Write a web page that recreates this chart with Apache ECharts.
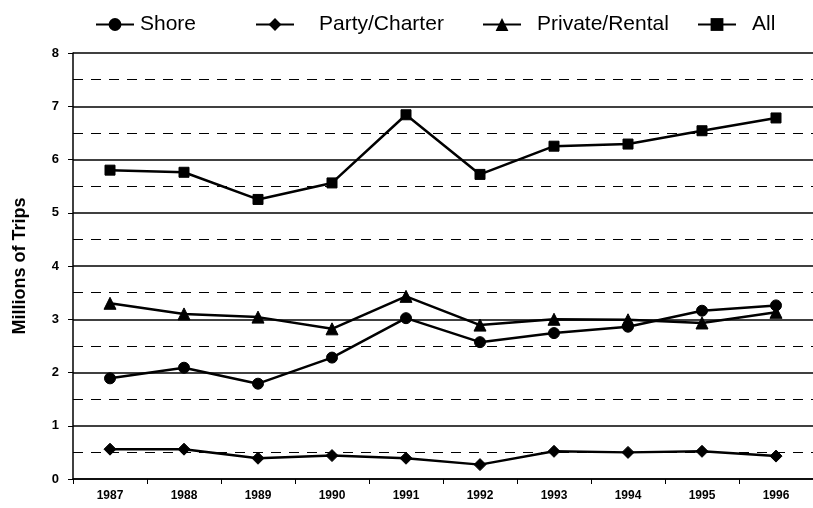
<!DOCTYPE html>
<html>
<head>
<meta charset="utf-8">
<script src="https://cdn.jsdelivr.net/npm/echarts@6/dist/echarts.min.js"></script>
<style>
  html, body { margin: 0; padding: 0; background: #fff; }
  #chart { width: 813px; height: 508px; }
</style>
</head>
<body>
<div id="chart"></div>
<script>
var years = ['1987', '1988', '1989', '1990', '1991', '1992', '1993', '1994', '1995', '1996'];
var shore = [1.89, 2.09, 1.79, 2.28, 3.02, 2.57, 2.74, 2.86, 3.16, 3.26];
var partyCharter = [0.56, 0.56, 0.39, 0.44, 0.39, 0.27, 0.52, 0.50, 0.52, 0.43];
var privateRental = [3.30, 3.10, 3.04, 2.82, 3.43, 2.89, 3.00, 2.99, 2.93, 3.13];
var all = [5.80, 5.76, 5.25, 5.56, 6.84, 5.72, 6.25, 6.29, 6.54, 6.78];

var font = 'Liberation Sans, Arial, Helvetica, sans-serif';
var chart = echarts.init(document.getElementById('chart'), null, { renderer: 'canvas' });

// each legend entry placed on its own, the original spacing is uneven
function legendAt(name, left, textGap) {
  return {
    data: [name],
    left: left,
    top: 9,
    itemWidth: 38,
    itemHeight: 16,
    textStyle: { fontFamily: font, fontSize: 21, color: '#000', padding: [0, 0, 0, textGap] },
    selectedMode: false
  };
}

function lineSeries(name, data, symbol, size) {
  return {
    name: name,
    type: 'line',
    data: data,
    symbol: symbol,
    symbolSize: size,
    showAllSymbol: true,
    lineStyle: { color: '#000', width: 2.5 },
    itemStyle: { color: '#000', borderColor: '#000' },
    emphasis: { disabled: true },
    animation: false
  };
}

var option = {
  backgroundColor: '#fff',
  animation: false,
  legend: [
    legendAt('Shore', 90, 1),
    legendAt('Party/Charter', 250, 20),
    legendAt('Private/Rental', 477, 11),
    legendAt('All', 692, 11)
  ],
  grid: { left: 73, top: 53, width: 742, height: 426 },
  xAxis: {
    type: 'category',
    data: years,
    boundaryGap: true,
    axisLine: { lineStyle: { color: '#000', width: 1.5 } },
    axisTick: { show: true, length: 5, lineStyle: { color: '#000' } },
    axisLabel: { margin: 11, color: '#000', fontFamily: font, fontSize: 12, fontWeight: 'bold' },
    splitLine: { show: false }
  },
  yAxis: {
    type: 'value',
    min: 0,
    max: 8,
    interval: 1,
    name: 'Millions of Trips',
    nameLocation: 'middle',
    nameGap: 44,
    nameRotate: 90,
    nameTextStyle: { fontFamily: font, fontSize: 18, fontWeight: 'bold', color: '#000' },
    axisLine: { show: true, lineStyle: { color: '#000', width: 1.5 } },
    axisTick: { show: true, length: 5, lineStyle: { color: '#000' } },
    axisLabel: { margin: 14, color: '#000', fontFamily: font, fontSize: 13, fontWeight: 'bold' },
    splitLine: { show: true, lineStyle: { color: '#000', width: 1.5 } },
    minorTick: { show: false, splitNumber: 2 },
    minorSplitLine: { show: true, lineStyle: { color: '#000', width: 1.2, type: [10, 8] } }
  },
  series: [
    lineSeries('Shore', shore, 'circle', 11),
    lineSeries('Party/Charter', partyCharter, 'diamond', 12),
    lineSeries('Private/Rental', privateRental, 'triangle', 12),
    lineSeries('All', all, 'rect', 10)
  ]
};

chart.setOption(option);
</script>
</body>
</html>
